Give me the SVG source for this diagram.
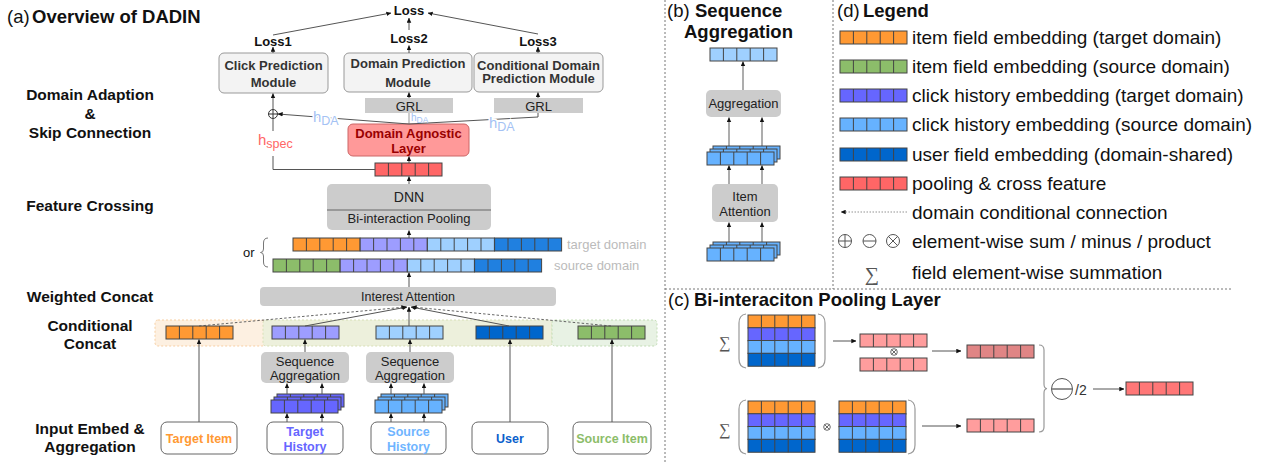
<svg xmlns="http://www.w3.org/2000/svg" width="1278" height="462" viewBox="0 0 1278 462">
<style>
text{font-family:"Liberation Sans",Arial,sans-serif;fill:#111}
.b{font-weight:bold}
.ttl{font-size:18.5px}
.lab{font-size:15.5px;font-weight:bold;text-anchor:middle}
.mod{fill:#f3f3f3;stroke:#999;stroke-width:1}
.mt{font-size:13px;font-weight:bold;fill:#333;text-anchor:middle}
.gb{fill:#cccccc}
.gt{font-size:13px;fill:#222;text-anchor:middle}
.ln{stroke:#555;stroke-width:1;fill:none}
.ar{stroke:#555;stroke-width:1;fill:none;marker-end:url(#ah)}
.ar2{stroke:#999;stroke-width:1.6;fill:none;marker-end:url(#ah)}
.da{stroke:#555;stroke-width:0.9;fill:none;stroke-dasharray:2.5,2;marker-end:url(#ah)}
.inb{fill:#fff;stroke:#666;stroke-width:1}
.it{font-size:12.5px;font-weight:bold;text-anchor:middle}
.hda{fill:#a4c2f4;stroke:#fff;stroke-width:3;paint-order:stroke}
.div{stroke:#777;stroke-width:1;stroke-dasharray:2,2;fill:none}
.lg{font-size:19px;fill:#111}
.dom{font-size:13px;fill:#bbbbbb}
.op{fill:none;stroke:#555;stroke-width:1}
.sig{font-family:"Liberation Serif","DejaVu Serif",serif;fill:#555;text-anchor:middle}
.par{fill:none;stroke:#999;stroke-width:1.2}
</style>
<defs>
<marker id="ah" viewBox="0 0 6 6" refX="5.6" refY="3" markerWidth="5" markerHeight="5" markerUnits="userSpaceOnUse" orient="auto"><path d="M0,0.3 L6,3 L0,5.7 z" fill="#111"/></marker>
<g id="c5"><rect width="67" height="13" fill="none" stroke="#444"/><path d="M13.4 0v13M26.8 0v13M40.2 0v13M53.6 0v13" stroke="#444"/></g>
<g id="bO"><rect width="67" height="13" fill="#ff9933"/><use href="#c5"/></g>
<g id="bG"><rect width="67" height="13" fill="#8cbd6a"/><use href="#c5"/></g>
<g id="bP"><rect width="67" height="13" fill="#6666ff"/><use href="#c5"/></g>
<g id="bL"><rect width="67" height="13" fill="#66b2ff"/><use href="#c5"/></g>
<g id="bU"><rect width="67" height="13" fill="#0066cc"/><use href="#c5"/></g>
<g id="bR"><rect width="67" height="13" fill="#ff6666"/><use href="#c5"/></g>
<g id="bP2"><rect width="67" height="13" fill="#9d9dff"/><use href="#c5"/></g>
<g id="bL2"><rect width="67" height="13" fill="#9fd0ff"/><use href="#c5"/></g>
<g id="bU2"><rect width="67" height="13" fill="#2080e0"/><use href="#c5"/></g>
<g id="bK"><rect width="67" height="13" fill="#ff9d9d"/><use href="#c5"/></g>
<g id="bKd"><rect width="67" height="13" fill="#e08585"/><use href="#c5"/></g>
<g id="bKo"><rect width="67" height="13" fill="#ff7777"/><use href="#c5"/></g>
<g id="sP"><use href="#bP" x="6"/><use href="#bP" x="3" y="3"/><use href="#bP" y="6"/></g>
<g id="sL"><use href="#bL" x="6"/><use href="#bL" x="3" y="3"/><use href="#bL" y="6"/></g>
<g id="mx"><use href="#bO"/><use href="#bP" y="12.75"/><use href="#bL" y="25.5"/><use href="#bU" y="38.25"/></g>
</defs>
<rect width="1278" height="462" fill="#fff"/>

<!-- panel dividers -->
<g id="dividers">
<path class="div" d="M665 0V462"/>
<path class="div" d="M833 0V289"/>
<path class="div" d="M665 289H1232"/>
</g>

<!-- Panel (a) -->
<g id="title-a"><text class="ttl" x="7" y="23">(a)</text><text class="ttl b" x="32" y="23">Overview of DADIN</text></g>
<g id="stage-labels">
<text class="lab" x="90" y="100">Domain Adaption</text>
<text class="lab" x="90" y="119">&amp;</text>
<text class="lab" x="90" y="138">Skip Connection</text>
<text class="lab" x="90" y="211">Feature Crossing</text>
<text class="lab" x="90" y="302">Weighted Concat</text>
<text class="lab" x="90" y="331">Conditional</text>
<text class="lab" x="90" y="349">Concat</text>
<text class="lab" x="90" y="434">Input Embed &amp;</text>
<text class="lab" x="90" y="452">Aggregation</text>
</g>

<g id="loss"><text class="mt" x="409" y="15" style="fill:#111">Loss</text></g>
<g id="loss1"><text class="mt" x="273" y="46" style="fill:#111">Loss1</text></g>
<g id="loss2"><text class="mt" x="409" y="43" style="fill:#111">Loss2</text></g>
<g id="loss3"><text class="mt" x="538" y="46" style="fill:#111">Loss3</text></g>

<g id="click-pred"><rect class="mod" x="219" y="53" width="109" height="40" rx="5"/><text class="mt" x="273.5" y="70">Click Prediction</text><text class="mt" x="273.5" y="87">Module</text></g>
<g id="domain-pred"><rect class="mod" x="344" y="53" width="128" height="39" rx="5"/><text class="mt" x="408" y="68">Domain Prediction</text><text class="mt" x="408" y="87">Module</text></g>
<g id="cond-domain-pred"><rect class="mod" x="474" y="53" width="129" height="39" rx="5"/><text class="mt" x="538.5" y="70">Conditional Domain</text><text class="mt" x="538.5" y="83">Prediction Module</text></g>
<g id="grl1"><rect class="gb" x="365" y="98" width="88" height="15"/><text class="gt" x="409" y="110.5">GRL</text></g>
<g id="grl2"><rect class="gb" x="494" y="98" width="89" height="15"/><text class="gt" x="538.5" y="110.5">GRL</text></g>
<g id="dal"><rect x="348" y="124" width="121" height="32" rx="5" fill="#ff9999" stroke="#cc6666"/><text class="mt" x="408.5" y="138" style="fill:#990000">Domain Agnostic</text><text class="mt" x="408.5" y="153" style="fill:#990000">Layer</text></g>
<g id="oplus-a"><circle cx="273" cy="114" r="4.5" class="op" style="stroke:#333"/><path d="M268.5 114H277.5M273 109.5V118.5" stroke="#333"/></g>
<g id="pool-bar"><use href="#bR" x="375" y="163"/></g>
<g id="dnn"><rect class="gb" x="327" y="184" width="164" height="46" rx="5"/><path d="M327 210H491" stroke="#666"/><text class="gt" x="409" y="202" style="font-size:14px">DNN</text><text class="gt" x="409" y="223">Bi-interaction Pooling</text></g>

<g id="target-row"><use href="#bO" x="293" y="238"/><use href="#bP2" x="360.2" y="238"/><use href="#bL2" x="427.4" y="238"/><use href="#bU2" x="494.6" y="238"/><text class="dom" x="567" y="249">target domain</text></g>
<g id="source-row"><use href="#bG" x="273" y="259"/><use href="#bP2" x="340.2" y="259"/><use href="#bL2" x="407.4" y="259"/><use href="#bU2" x="474.6" y="259"/><text class="dom" x="554" y="270">source domain</text></g>
<g id="or"><text x="243" y="257" style="font-size:13px">or</text><path d="M268 238Q263.5 238 263.5 243V249Q263.5 252.5 260.5 252.5Q263.5 252.5 263.5 256V262Q263.5 267 268 267" class="ln" style="stroke:#777"/></g>

<g id="interest-attention"><rect class="gb" x="260" y="287" width="296" height="19" rx="4"/><text class="gt" x="408" y="301" style="font-size:12.5px">Interest Attention</text></g>

<g id="cond-concat">
<rect x="155" y="320" width="110" height="26" rx="3" fill="#fdf0e1" stroke="#f7cfa3" stroke-dasharray="2,2"/>
<rect x="263" y="320" width="289" height="26" rx="3" fill="#edf0dc" stroke="#d8dfb6" stroke-dasharray="2,2"/>
<rect x="552" y="320" width="105" height="26" rx="3" fill="#e8f2e4" stroke="#c2dcb5" stroke-dasharray="2,2"/>
<use href="#bO" x="166" y="326"/>
<use href="#bP2" x="272" y="326"/>
<use href="#bL2" x="376" y="326"/>
<use href="#bU" x="476" y="326"/>
<use href="#bG" x="578" y="326"/>
</g>

<g id="seqagg1"><rect class="gb" x="261" y="352" width="88" height="31" rx="5"/><text class="gt" x="305" y="365.5">Sequence</text><text class="gt" x="305" y="380">Aggregation</text></g>
<g id="seqagg2"><rect class="gb" x="366" y="352" width="88" height="31" rx="5"/><text class="gt" x="410" y="365.5">Sequence</text><text class="gt" x="410" y="380">Aggregation</text></g>
<g id="stack-target"><use href="#sP" x="271" y="394"/></g>
<g id="stack-source"><use href="#sL" x="375" y="394"/></g>

<g id="in-target-item"><rect class="inb" x="161" y="422" width="76" height="32" rx="6"/><text class="it" x="199" y="443" style="fill:#ff9933">Target Item</text></g>
<g id="in-target-history"><rect class="inb" x="267" y="422" width="76" height="32" rx="6"/><text class="it" x="305" y="436" style="fill:#6666ff">Target</text><text class="it" x="305" y="451" style="fill:#6666ff">History</text></g>
<g id="in-source-history"><rect class="inb" x="371" y="422" width="75" height="32" rx="6"/><text class="it" x="408.5" y="436" style="fill:#6fb5ff">Source</text><text class="it" x="408.5" y="451" style="fill:#6fb5ff">History</text></g>
<g id="in-user"><rect class="inb" x="472" y="422" width="76" height="32" rx="6"/><text class="it" x="510" y="443" style="fill:#0b5fcc">User</text></g>
<g id="in-source-item"><rect class="inb" x="573" y="422" width="78" height="32" rx="6"/><text class="it" x="612" y="443" style="fill:#8cbd6a">Source Item</text></g>

<!-- Connectors -->
<g id="connectors">
<line class="ar" x1="273" y1="35" x2="391" y2="13"/>
<line class="ar" x1="538" y1="34" x2="428" y2="13"/>
<line class="ar" x1="409" y1="30" x2="409" y2="18"/>
<line class="ar" x1="273" y1="53" x2="273" y2="47"/>
<line class="ar" x1="409" y1="53" x2="409" y2="45.5"/>
<line class="ar" x1="538" y1="53" x2="538" y2="47"/>
<line class="ar" x1="409" y1="98" x2="409" y2="92.5"/>
<line class="ar" x1="538" y1="98" x2="538" y2="92.5"/>
<line class="ln" x1="409" y1="124" x2="409" y2="113" style="stroke:#999"/>
<line class="ar" x1="409" y1="124" x2="278" y2="114"/>
<polyline class="ln" points="409,124 538,117 538,113"/>
<line class="ar" x1="273" y1="109.5" x2="273" y2="93.5"/>
<path class="ln" d="M273 118.5V131M273 156V169.5H375"/>
<line class="ar" x1="409" y1="163" x2="409" y2="156.5"/>
<line class="ar" x1="409" y1="184" x2="409" y2="176.5"/>
<line class="ar" x1="409" y1="238" x2="409" y2="230.5"/>
<line class="ar" x1="409" y1="287" x2="409" y2="272.5"/>
<line class="da" x1="199" y1="326" x2="406" y2="307"/>
<line class="ar" x1="305" y1="326" x2="407" y2="307"/>
<line class="ar" x1="409" y1="326" x2="409" y2="307"/>
<line class="ar" x1="509" y1="326" x2="411" y2="307"/>
<line class="da" x1="611" y1="326" x2="412" y2="307"/>
<line class="ar" x1="305" y1="352" x2="305" y2="339.5"/>
<line class="ar" x1="410" y1="352" x2="410" y2="339.5"/>
<line class="ar" x1="287" y1="394" x2="287" y2="383.5"/>
<line class="ar" x1="322" y1="394" x2="322" y2="383.5"/>
<line class="ar" x1="391" y1="394" x2="391" y2="383.5"/>
<line class="ar" x1="424" y1="394" x2="424" y2="383.5"/>
<line class="ar" x1="287" y1="422" x2="287" y2="413.5"/>
<line class="ar" x1="322" y1="422" x2="322" y2="413.5"/>
<line class="ar" x1="391" y1="422" x2="391" y2="413.5"/>
<line class="ar" x1="424" y1="422" x2="424" y2="413.5"/>
<line class="ar" x1="199" y1="422" x2="199" y2="339.5"/>
<line class="ar" x1="510" y1="422" x2="510" y2="339.5"/>
<line class="ar" x1="612" y1="422" x2="612" y2="339.5"/>
<!-- panel b -->
<line class="ar2" x1="743" y1="90" x2="743" y2="61.5"/>
<line class="ar2" x1="729" y1="146" x2="729" y2="117.5"/>
<line class="ar2" x1="762" y1="146" x2="762" y2="117.5"/>
<line class="ar2" x1="729" y1="184" x2="729" y2="165.5"/>
<line class="ar2" x1="762" y1="184" x2="762" y2="165.5"/>
<line class="ar2" x1="729" y1="242" x2="729" y2="222.5"/>
<line class="ar2" x1="762" y1="242" x2="762" y2="222.5"/>
<!-- panel c -->
<line class="ar" x1="833" y1="341" x2="856" y2="341"/>
<line class="ar" x1="932" y1="351" x2="961" y2="351"/>
<line class="ar" x1="922" y1="426" x2="961" y2="426"/>
<line class="ar" x1="1093" y1="389" x2="1124" y2="389"/>
</g>

<g id="h-labels">
<text x="258" y="145" style="font-size:15px;fill:#ff6666">h<tspan dy="3" style="font-size:12.5px">spec</tspan></text>
<text class="hda" x="313" y="122" style="font-size:15px">h<tspan dy="3" style="font-size:12.5px">DA</tspan></text>
<text class="hda" x="411" y="121" style="font-size:10px;stroke-width:0">h<tspan dy="2" style="font-size:8.5px">DA</tspan></text>
<text class="hda" x="489" y="127.5" style="font-size:15px">h<tspan dy="3" style="font-size:12.5px">DA</tspan></text>
</g>

<!-- Panel (b) -->
<g id="title-b"><text class="ttl" x="667" y="17">(b)</text><text class="ttl b" x="695" y="17">Sequence</text><text class="ttl b" x="684" y="38">Aggregation</text></g>
<g id="b-out"><use href="#bL2" x="710" y="48"/></g>
<g id="b-aggregation"><rect class="gb" x="706" y="90" width="75" height="27" rx="5"/><text class="gt" x="743.5" y="108">Aggregation</text></g>
<g id="b-stack-mid"><use href="#sL" x="707" y="146"/></g>
<g id="b-item-attention"><rect class="gb" x="712" y="184" width="66" height="38" rx="5"/><text class="gt" x="745" y="201">Item</text><text class="gt" x="745" y="216">Attention</text></g>
<g id="b-stack-in"><use href="#sL" x="707" y="242"/></g>

<!-- Panel (d) legend -->
<g id="legend">
<text class="ttl" x="837" y="17">(d)</text><text class="ttl b" x="863" y="17">Legend</text>
<use href="#bO" x="840" y="31"/><text class="lg" x="912" y="44">item field embedding (target domain)</text>
<use href="#bG" x="840" y="60"/><text class="lg" x="912" y="73">item field embedding (source domain)</text>
<use href="#bP" x="840" y="89"/><text class="lg" x="912" y="102">click history embedding (target domain)</text>
<use href="#bL" x="840" y="118"/><text class="lg" x="912" y="131">click history embedding (source domain)</text>
<use href="#bU" x="840" y="148"/><text class="lg" x="912" y="161">user field embedding (domain-shared)</text>
<use href="#bR" x="840" y="177"/><text class="lg" x="912" y="190">pooling &amp; cross feature</text>
<line class="da" x1="907" y1="212" x2="841" y2="212" style="stroke:#777;stroke-width:0.8;stroke-dasharray:1.5,1.5"/><text class="lg" x="912" y="219">domain conditional connection</text>
<circle class="op" cx="845" cy="241" r="6.5"/><path class="op" d="M838.5 241H851.5M845 234.5V247.5"/>
<circle class="op" cx="869.5" cy="241" r="6.5"/><path class="op" d="M863 241H876"/>
<circle class="op" cx="893" cy="241" r="6.5"/><path class="op" d="M888.4 236.4L897.6 245.6M897.6 236.4L888.4 245.6"/>
<text class="lg" x="912" y="248">element-wise sum / minus / product</text>
<text class="sig" x="872" y="281" style="font-size:20px">∑</text><text class="lg" x="912" y="279">field element-wise summation</text>
</g>

<!-- Panel (c) -->
<g id="title-c"><text class="ttl" x="668" y="306">(c)</text><text class="ttl b" x="694" y="306">Bi-interaciton Pooling Layer</text></g>
<g id="c-sum-square">
<text class="sig" x="725" y="348" style="font-size:16px">∑</text>
<path class="par" d="M746 314Q739 315 739 323V359Q739 367 746 368"/>
<use href="#mx" x="748" y="315"/>
<path class="par" d="M818 314Q825 315 825 323V359Q825 367 818 368"/>
</g>
<g id="c-square-pair"><use href="#bK" x="860" y="334"/><use href="#bK" x="860" y="358"/>
<circle class="op" cx="894" cy="352" r="3.3" style="stroke:#444;stroke-width:0.8"/><path d="M891.7 349.7L896.3 354.3M896.3 349.7L891.7 354.3" stroke="#444" stroke-width="0.8"/></g>
<g id="c-square-out"><use href="#bKd" x="967" y="345"/></g>
<g id="c-sum-product">
<text class="sig" x="725" y="435" style="font-size:16px">∑</text>
<path class="par" d="M746 400Q739 401 739 409V445Q739 453 746 454"/>
<use href="#mx" x="748" y="401"/>
<circle class="op" cx="827" cy="427" r="3.3" style="stroke:#444;stroke-width:0.8"/><path d="M824.7 424.7L829.3 429.3M829.3 424.7L824.7 429.3" stroke="#444" stroke-width="0.8"/>
<use href="#mx" x="839" y="401"/>
<path class="par" d="M908 400Q915 401 915 409V445Q915 453 908 454"/>
</g>
<g id="c-product-out"><use href="#bK" x="967" y="419"/></g>
<g id="c-minus">
<path class="par" d="M1039 345Q1044 345 1044 350V384Q1044 388.5 1047 388.5Q1044 389 1044 393V427Q1044 432 1039 432"/>
<circle cx="1062" cy="389" r="10.5" fill="none" stroke="#555" stroke-width="1"/><path d="M1051.5 389H1072.5" stroke="#777" stroke-width="1.6"/>
<text x="1075" y="395" style="font-size:14px;fill:#333">/2</text>
</g>
<g id="c-out"><use href="#bKo" x="1126" y="382"/></g>
</svg>
